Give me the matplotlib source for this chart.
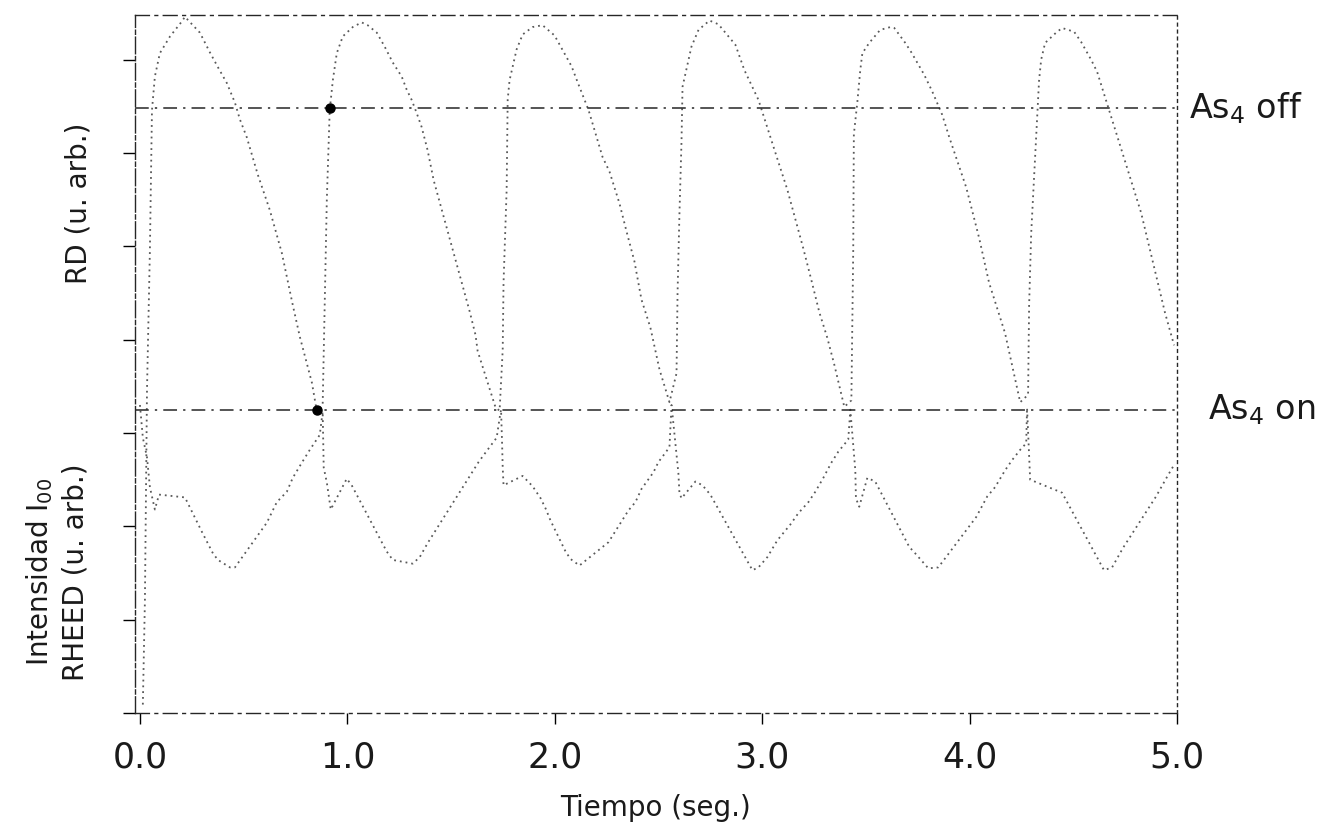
import matplotlib
matplotlib.use("Agg")
import matplotlib.pyplot as plt

# RD trace, one line per As4 cycle
rd_time = [
    0.014, 0.024, 0.034, 0.048, 0.058, 0.072, 0.096, 0.145, 0.202, 0.217, 0.289, 0.337, 0.376,
    0.419, 0.458, 0.482, 0.515, 0.568, 0.626, 0.684, 0.737, 0.771, 0.804, 0.829, 0.853,
    0.881, 0.891, 0.901, 0.915, 0.930, 0.949, 0.978, 1.026, 1.069, 1.098, 1.142, 1.180, 1.219,
    1.262, 1.286, 1.310, 1.334, 1.358, 1.387, 1.416, 1.590, 1.618, 1.628, 1.715,
    1.734, 1.749, 1.753, 1.768, 1.773, 1.782, 1.816, 1.845, 1.893, 1.941, 1.999, 2.081, 2.110,
    2.163, 2.230, 2.264, 2.312, 2.346, 2.384, 2.418, 2.461, 2.505, 2.553,
    2.587, 2.592, 2.601, 2.611, 2.616, 2.659, 2.693, 2.746, 2.789, 2.871, 2.914, 2.982, 3.044,
    3.083, 3.121, 3.165, 3.198, 3.237, 3.276, 3.314, 3.348, 3.396,
    3.430, 3.439, 3.442, 3.459, 3.473, 3.483, 3.516, 3.569, 3.618, 3.637, 3.690, 3.719, 3.781,
    3.820, 3.868, 3.902, 3.984, 4.046, 4.094, 4.171, 4.244,
    4.282, 4.287, 4.297, 4.335, 4.345, 4.364, 4.417, 4.446, 4.504, 4.538, 4.586, 4.615, 4.827,
    4.942, 4.986,
]
rd_signal = [
    0.09, 1.21, 3.46, 4.96, 6.46, 6.82, 7.07, 7.25, 7.41, 7.46, 7.29, 7.08, 6.92,
    6.75, 6.54, 6.36, 6.17, 5.77, 5.39, 4.93, 4.37, 4.03, 3.75, 3.54, 3.23,
    3.30, 4.43, 5.50, 6.46, 6.78, 7.07, 7.25, 7.35, 7.40, 7.37, 7.29, 7.14, 6.97,
    6.82, 6.68, 6.57, 6.43, 6.28, 6.03, 5.71, 4.30, 4.05, 3.88, 3.27,
    3.24, 3.89, 4.61, 5.61, 6.57, 6.78, 7.11, 7.27, 7.35, 7.37, 7.26, 6.93, 6.76,
    6.46, 5.96, 5.80, 5.46, 5.16, 4.84, 4.43, 4.13, 3.68, 3.33,
    3.64, 4.50, 5.34, 6.12, 6.71, 7.14, 7.32, 7.42, 7.38, 7.16, 6.89, 6.57, 6.14,
    5.87, 5.61, 5.25, 4.98, 4.64, 4.29, 4.02, 3.73, 3.28,
    3.35, 4.96, 6.20, 6.55, 6.89, 7.07, 7.18, 7.32, 7.35, 7.34, 7.18, 7.08, 6.84,
    6.66, 6.41, 6.17, 5.63, 5.09, 4.61, 4.07, 3.33,
    3.41, 4.37, 5.14, 6.78, 7.00, 7.18, 7.29, 7.34, 7.30, 7.19, 7.00, 6.87, 5.36,
    4.29, 3.94,
]

# RHEED specular intensity I00
rheed_time = [
    0.000, 0.014, 0.034, 0.048, 0.072, 0.092, 0.217, 0.299, 0.352, 0.376, 0.434, 0.458,
    0.612, 0.660, 0.708, 0.737, 0.780, 0.819, 0.867, 0.881,
    0.886, 0.901, 0.920, 0.997, 1.021, 1.166, 1.190, 1.219, 1.315, 1.349, 1.387, 1.633,
    1.676, 1.720, 1.734, 1.741,
    1.746, 1.749, 1.753, 1.845, 1.893, 1.932, 1.956, 1.980, 2.052, 2.076, 2.119, 2.259,
    2.355, 2.389, 2.418, 2.476, 2.500, 2.534, 2.553, 2.563,
    2.596, 2.601, 2.611, 2.678, 2.712, 2.750, 2.953, 2.982, 3.025, 3.073, 3.136, 3.174,
    3.223, 3.256, 3.295, 3.333, 3.367, 3.415, 3.425,
    3.449, 3.452, 3.468, 3.507, 3.545, 3.709, 3.738, 3.801, 3.849, 4.032, 4.085, 4.123,
    4.171, 4.205, 4.244, 4.273, 4.277,
    4.292, 4.446, 4.648, 4.687, 4.740, 4.899, 4.952, 4.981,
]
rheed_signal = [
    3.30, 2.95, 2.74, 2.42, 2.18, 2.34, 2.31, 1.94, 1.71, 1.64, 1.56, 1.56,
    2.04, 2.26, 2.37, 2.52, 2.68, 2.82, 2.98, 3.23,
    2.63, 2.47, 2.18, 2.51, 2.44, 1.83, 1.73, 1.64, 1.60, 1.67, 1.82, 2.69,
    2.82, 2.95, 3.16, 3.25,
    2.89, 2.63, 2.44, 2.54, 2.43, 2.30, 2.19, 2.06, 1.73, 1.65, 1.58, 1.83,
    2.17, 2.26, 2.40, 2.58, 2.69, 2.79, 2.85, 3.30,
    2.57, 2.36, 2.30, 2.48, 2.44, 2.34, 1.53, 1.56, 1.67, 1.85, 2.02, 2.14,
    2.26, 2.37, 2.52, 2.68, 2.80, 2.93, 3.25,
    2.60, 2.30, 2.21, 2.52, 2.48, 1.78, 1.71, 1.55, 1.56, 2.10, 2.32, 2.42,
    2.60, 2.71, 2.82, 2.89, 3.27,
    2.50, 2.36, 1.53, 1.56, 1.77, 2.32, 2.53, 2.64,
]

as4_off_level = 6.48
as4_on_level = 3.25
marked_time = [0.915, 0.853]
marked_level = [as4_off_level, as4_on_level]

xticks = [0, 1, 2, 3, 4, 5]
xtick_labels = ["0.0", "1.0", "2.0", "3.0", "4.0", "5.0"]
yticks = [0, 1, 2, 3, 4, 5, 6, 7]

plt.rcParams["font.family"] = ["DejaVu Sans"]

fig = plt.figure(figsize=(13.31, 8.3), dpi=100)
ax = fig.add_axes([0.1014, 0.141, 0.7829, 0.841])

dots = (0, (1, 2.2))
ax.plot(rd_time, rd_signal, color="0.35", lw=1.3, ls=dots)
ax.plot(rheed_time, rheed_signal, color="0.35", lw=1.3, ls=dots)

dashdot = (0, (9, 4, 1.5, 4))
ax.axhline(as4_off_level, color="0.15", lw=1.1, ls=dashdot)
ax.axhline(as4_on_level, color="0.15", lw=1.1, ls=dashdot)
ax.plot(marked_time, marked_level, "o", color="black", ms=6.5)

ax.text(5.06, as4_off_level, "As$_4$ off", fontsize=24, va="center", ha="left",
        color="0.1", clip_on=False)
ax.text(5.15, as4_on_level, "As$_4$ on", fontsize=24, va="center", ha="left",
        color="0.1", clip_on=False)

ax.set_xlim(-0.024, 5.0)
ax.set_ylim(0, 7.48)
ax.set_xticks(xticks)
ax.set_xticklabels(xtick_labels)
ax.set_yticks(yticks)
ax.set_yticklabels([])
ax.tick_params(axis="x", direction="out", length=8, width=1, pad=12, labelsize=25,
               labelcolor="0.1")
ax.tick_params(axis="y", direction="out", length=9, width=1)
ax.set_xlabel("Tiempo (seg.)", fontsize=20, labelpad=14, color="0.1")

for side in ["top", "bottom", "left", "right"]:
    ax.spines[side].set_linewidth(1.0)
    ax.spines[side].set_color("0.15")
ax.spines["top"].set_linestyle((0, (10, 4, 2, 4)))
ax.spines["bottom"].set_linestyle((0, (10, 4, 2, 4)))
ax.spines["left"].set_linestyle((0, (12, 2, 3, 2)))
ax.spines["right"].set_linestyle((0, (2, 3)))

fig.text(0.059, 0.755, "RD (u. arb.)", rotation=90, ha="center", va="center",
         fontsize=20, color="0.1")
fig.text(0.043, 0.311, "Intensidad I$_{00}$\nRHEED (u. arb.)", rotation=90,
         ha="center", va="center", multialignment="center", fontsize=20,
         linespacing=1.3, color="0.1")

fig.savefig("out.png", dpi=100)
